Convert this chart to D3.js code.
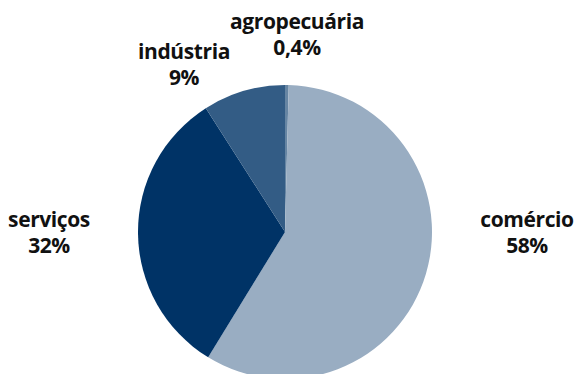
<!DOCTYPE html>
<html>
<head>
<meta charset="utf-8">
<script src="https://cdn.jsdelivr.net/npm/d3@7"></script>
<style>
  html, body { margin: 0; padding: 0; background: #fff; }
  svg { display: block; }
  .lbl { font-family: "Open Sans", sans-serif; font-weight: 700; font-size: 21px; fill: #111; letter-spacing: -0.4px; }
</style>
</head>
<body>
<svg id="chart" width="574" height="374"></svg>
<script>
// Shares by sector (%), in drawing order clockwise from 12 o'clock
const categories = ["agropecuária", "comércio", "serviços", "indústria"];
const values = [0.4, 58, 32, 9];
const valueLabels = ["0,4%", "58%", "32%", "9%"];

const colors = ["#6685a3", "#99adc2", "#003366", "#335c85"];

const width = 574, height = 374;
const cx = 285, cy = 232, radius = 147;

const svg = d3.select("#chart");
const g = svg.append("g").attr("transform", `translate(${cx},${cy})`);

const data = categories.map((c, i) => ({ name: c, value: values[i], label: valueLabels[i] }));

const pie = d3.pie().value(d => d.value).sort(null);
const arc = d3.arc().innerRadius(0).outerRadius(radius);
const color = d3.scaleOrdinal().domain(categories).range(colors);

const arcs = pie(data);

g.selectAll("path.slice")
  .data(arcs)
  .join("path")
  .attr("class", "slice")
  .attr("d", arc)
  .attr("fill", d => color(d.data.name));

// Label placement (offsets from pie centre for the first text line baseline)
const labelOffset = {
  "agropecuária": [12, -203],
  "comércio": [242, -5],
  "serviços": [-236, -5],
  "indústria": [-101, -173]
};
const lineGap = 26;

const labels = svg.append("g").attr("transform", `translate(${cx},${cy})`);
arcs.forEach(a => {
  const [ox, oy] = labelOffset[a.data.name];
  const t = labels.append("text")
    .attr("class", "lbl")
    .attr("text-anchor", "middle")
    .attr("x", ox)
    .attr("y", oy);
  t.append("tspan").attr("x", ox).attr("dy", 0).text(a.data.name);
  t.append("tspan").attr("x", ox).attr("dy", lineGap).text(a.data.label);
});
</script>
</body>
</html>
